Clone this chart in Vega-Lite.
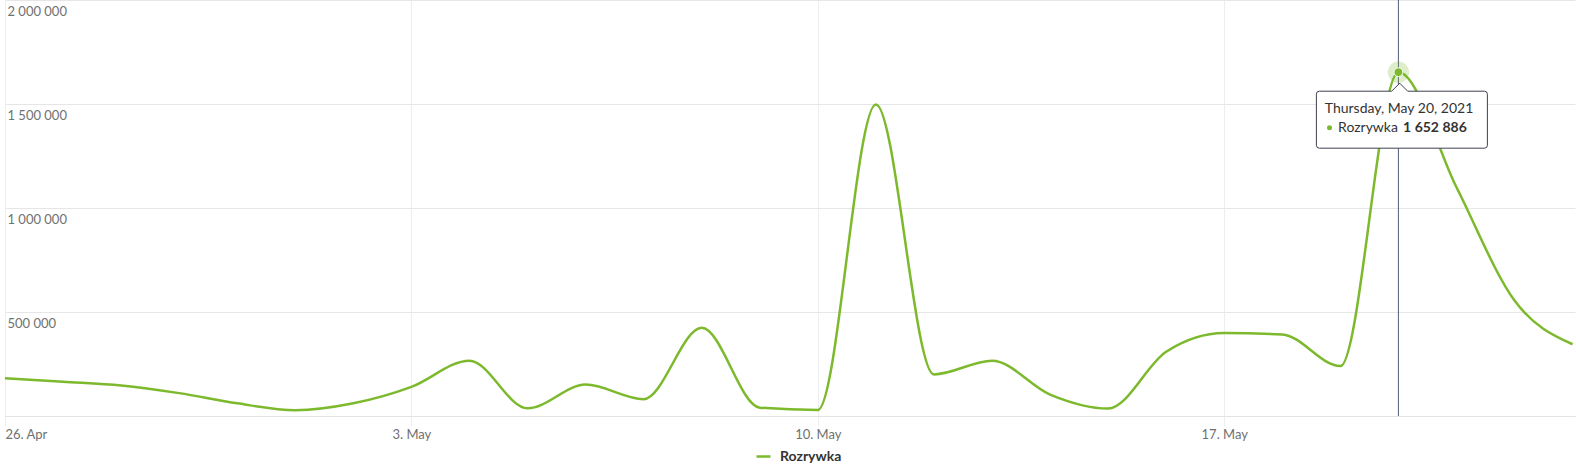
{
  "$schema": "https://vega.github.io/schema/vega-lite/v6.json",
  "width": 1570,
  "height": 416,
  "autosize": {"type": "none"},
  "padding": {"left": 5, "top": 0, "right": 1, "bottom": 58},
  "background": "#ffffff",
  "config": {
    "font": "Lato",
    "locale": {"number": {"decimal": ",", "thousands": " ", "grouping": [3], "currency": ["", ""]}},
    "view": {"stroke": null}
  },
  "data": {
    "values": [
      {"day": "2021-04-26T00:00", "series": "Rozrywka", "value": 182000},
      {"day": "2021-04-27T00:00", "series": "Rozrywka", "value": 165000},
      {"day": "2021-04-28T00:00", "series": "Rozrywka", "value": 147000},
      {"day": "2021-04-29T00:00", "series": "Rozrywka", "value": 110000},
      {"day": "2021-04-30T00:00", "series": "Rozrywka", "value": 61000},
      {"day": "2021-05-01T00:00", "series": "Rozrywka", "value": 28000},
      {"day": "2021-05-02T00:00", "series": "Rozrywka", "value": 61000},
      {"day": "2021-05-03T00:00", "series": "Rozrywka", "value": 140000},
      {"day": "2021-05-04T00:00", "series": "Rozrywka", "value": 266000},
      {"day": "2021-05-05T00:00", "series": "Rozrywka", "value": 37000},
      {"day": "2021-05-06T00:00", "series": "Rozrywka", "value": 151000},
      {"day": "2021-05-07T00:00", "series": "Rozrywka", "value": 81000},
      {"day": "2021-05-08T00:00", "series": "Rozrywka", "value": 424000},
      {"day": "2021-05-09T00:00", "series": "Rozrywka", "value": 40000},
      {"day": "2021-05-10T00:00", "series": "Rozrywka", "value": 29000},
      {"day": "2021-05-11T00:00", "series": "Rozrywka", "value": 1498000},
      {"day": "2021-05-12T00:00", "series": "Rozrywka", "value": 200000},
      {"day": "2021-05-13T00:00", "series": "Rozrywka", "value": 266000},
      {"day": "2021-05-14T00:00", "series": "Rozrywka", "value": 103000},
      {"day": "2021-05-15T00:00", "series": "Rozrywka", "value": 36000},
      {"day": "2021-05-16T00:00", "series": "Rozrywka", "value": 309000},
      {"day": "2021-05-17T00:00", "series": "Rozrywka", "value": 399000},
      {"day": "2021-05-18T00:00", "series": "Rozrywka", "value": 392000},
      {"day": "2021-05-19T00:00", "series": "Rozrywka", "value": 240000},
      {"day": "2021-05-20T00:00", "series": "Rozrywka", "value": 1652886},
      {"day": "2021-05-21T00:00", "series": "Rozrywka", "value": 1100000},
      {"day": "2021-05-22T00:00", "series": "Rozrywka", "value": 555000},
      {"day": "2021-05-23T00:00", "series": "Rozrywka", "value": 345000}
    ]
  },
  "layer": [
    {
      "transform": [
        {"joinaggregate": [{"op": "max", "field": "value", "as": "peak"}]},
        {"filter": "datum.value === datum.peak"}
      ],
      "mark": {"type": "rule", "color": "#555a78", "strokeWidth": 1},
      "encoding": {"x": {"field": "day", "type": "temporal"}}
    },
    {
      "mark": {"type": "line", "interpolate": "monotone", "strokeWidth": 2.5},
      "encoding": {
        "x": {
          "field": "day",
          "type": "temporal",
          "scale": {"domain": [{"year": 2021, "month": 4, "date": 26}, {"year": 2021, "month": 5, "date": 23, "hours": 1}]},
          "axis": {
            "title": null,
            "values": [
              {"year": 2021, "month": 4, "date": 26},
              {"year": 2021, "month": 5, "date": 3},
              {"year": 2021, "month": 5, "date": 10},
              {"year": 2021, "month": 5, "date": 17}
            ],
            "format": "%-d. %b",
            "grid": true,
            "gridColor": "#eceef2",
            "tickSize": 10,
            "tickColor": "#eceef2",
            "domainColor": "#e3e3e3",
            "labelFontSize": 13,
            "labelColor": "#707070",
            "labelPadding": 2,
            "labelBaseline": "top",
            "labelFlush": true
          }
        },
        "y": {
          "field": "value",
          "type": "quantitative",
          "scale": {"domain": [0, 2000000], "nice": false},
          "axis": {
            "title": null,
            "values": [0, 500000, 1000000, 1500000, 2000000],
            "format": ",d",
            "labelExpr": "datum.value === 0 ? '' : datum.label",
            "grid": true,
            "gridColor": "#e6e6e6",
            "domain": false,
            "ticks": false,
            "tickSize": 0,
            "labelAlign": "left",
            "labelPadding": -2,
            "labelBaseline": "top",
            "labelOffset": 5,
            "labelFontSize": 13,
            "labelColor": "#707070"
          }
        },
        "color": {
          "field": "series",
          "type": "nominal",
          "scale": {"range": ["#7cb92c"]},
          "legend": {
            "title": null,
            "orient": "none",
            "legendX": 750,
            "legendY": 448,
            "padding": 0,
            "symbolType": "stroke",
            "symbolSize": 196,
            "symbolStrokeWidth": 2.5,
            "labelFontSize": 14,
            "labelFontWeight": "bold",
            "labelColor": "#333333",
            "labelOffset": 8
          }
        }
      }
    },
    {
      "transform": [
        {"joinaggregate": [{"op": "max", "field": "value", "as": "peak"}]},
        {"filter": "datum.value === datum.peak"}
      ],
      "encoding": {
        "x": {"field": "day", "type": "temporal"},
        "y": {"field": "value", "type": "quantitative"}
      },
      "layer": [
        {"mark": {"type": "point", "filled": true, "fill": "#7cb92c", "size": 452, "opacity": 0.25}},
        {"mark": {"type": "point", "filled": true, "fill": "#7cb92c", "stroke": "#ffffff", "strokeWidth": 1, "size": 78, "opacity": 1}},
        {
          "mark": {
            "type": "point",
            "shape": "M -0.825 -0.285 L -0.102 -0.285 L -0.022 -0.365 L 0.058 -0.285 L 0.825 -0.285 Q 0.855 -0.285 0.855 -0.255 L 0.855 0.255 Q 0.855 0.285 0.825 0.285 L -0.825 0.285 Q -0.855 0.285 -0.855 0.255 L -0.855 -0.255 Q -0.855 -0.285 -0.825 -0.285 Z",
            "size": 40000,
            "filled": true,
            "fill": "#ffffff",
            "stroke": "#3d4150",
            "strokeWidth": 1,
            "opacity": 1,
            "fillOpacity": 1,
            "strokeOpacity": 1,
            "xOffset": 3.5,
            "yOffset": 47.5
          }
        },
        {
          "mark": {"type": "text", "align": "left", "baseline": "alphabetic", "dx": -73.6, "dy": 41, "fontSize": 14, "color": "#333333"},
          "encoding": {"text": {"field": "day", "type": "temporal", "format": "%A, %B %-d, %Y"}}
        },
        {"mark": {"type": "point", "filled": true, "fill": "#7cb92c", "size": 25, "opacity": 1, "xOffset": -68.9, "yOffset": 55.5}},
        {
          "mark": {"type": "text", "align": "left", "baseline": "alphabetic", "dx": -60.3, "dy": 59.5, "fontSize": 14, "color": "#333333"},
          "encoding": {"text": {"field": "series", "type": "nominal"}}
        },
        {
          "mark": {"type": "text", "align": "left", "baseline": "alphabetic", "dx": 4.7, "dy": 59.5, "fontSize": 14, "fontWeight": "bold", "color": "#333333"},
          "encoding": {"text": {"field": "value", "type": "quantitative", "format": ",d"}}
        }
      ]
    }
  ]
}
